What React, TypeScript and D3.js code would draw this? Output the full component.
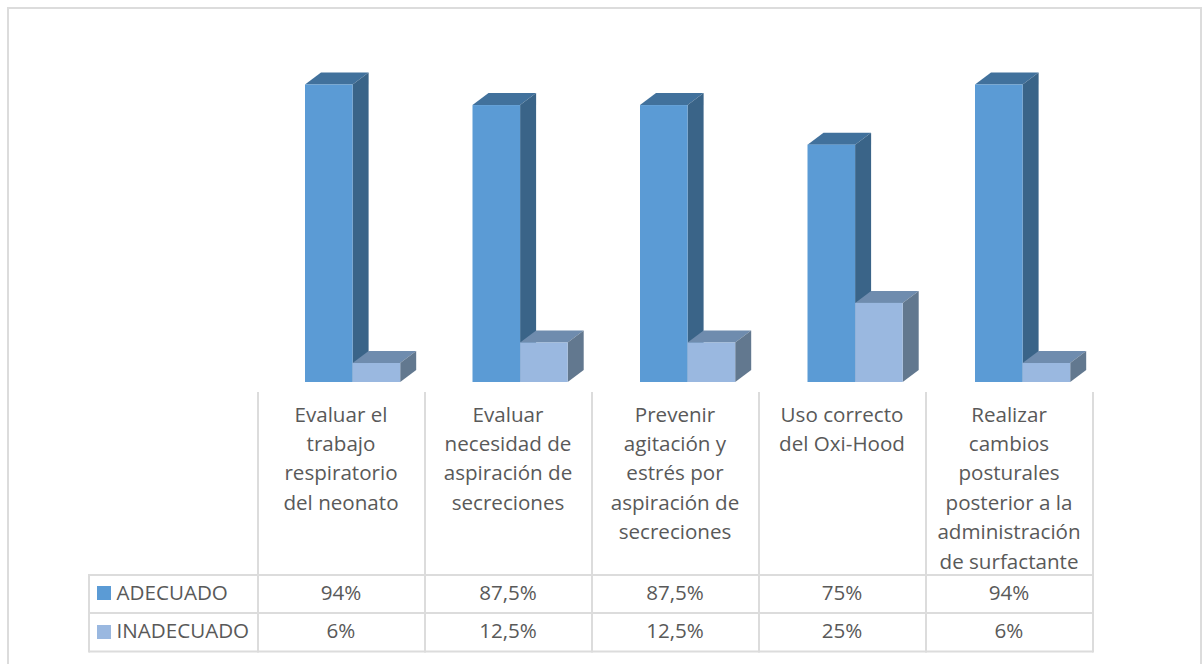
import React from "react";
import * as d3 from "d3";

const categories = [
  ["Evaluar el", "trabajo", "respiratorio", "del neonato"],
  ["Evaluar", "necesidad de", "aspiración de", "secreciones"],
  ["Prevenir", "agitación y", "estrés por", "aspiración de", "secreciones"],
  ["Uso correcto", "del Oxi-Hood"],
  ["Realizar", "cambios", "posturales", "posterior a la", "administración", "de surfactante"],
];
const adecuado = [94, 87.5, 87.5, 75, 94];
const inadecuado = [6, 12.5, 12.5, 25, 6];
const adecuadoLabels = ["94%", "87,5%", "87,5%", "75%", "94%"];
const inadecuadoLabels = ["6%", "12,5%", "12,5%", "25%", "6%"];
const seriesNames = ["ADECUADO", "INADECUADO"];

const W = 1204;
const H = 664;
const FONT = "'Open Sans', 'Noto Sans', sans-serif";
const FONT_SIZE = 20.6;
const TEXT = "#595959";
const GRID = "#dcdcdc";
const DX = 16;
const DY = -12;
const BAR_W = 47.6;

const seriesColors = [
  { front: "#5b9bd5", top: "#41719c", side: "#3a6488" },
  { front: "#9ab8e0", top: "#6f8cae", side: "#62788f" },
];

const bandX = d3.scaleBand<number>().domain(d3.range(5)).range([258, 1093]);
const groupX = d3.scaleLinear().domain([0, 4]).range([305, 975]);
const y = d3.scaleLinear().domain([0, 94]).range([382, 84.5]);

function Bar3D({ x, value, c }: { x: number; value: number; c: (typeof seriesColors)[number] }) {
  const t = y(value);
  const b = y(0);
  const r = x + BAR_W;
  const pts = (p: number[][]) => p.map((q) => q.join(",")).join(" ");
  return (
    <g>
      <polygon points={pts([[x, t], [x + DX, t + DY], [r + DX, t + DY], [r, t]])} fill={c.top} />
      <polygon points={pts([[r, t], [r + DX, t + DY], [r + DX, b + DY], [r, b]])} fill={c.side} />
      <rect x={x} y={t} width={BAR_W} height={b - t} fill={c.front} />
    </g>
  );
}

export default function App() {
  const rows = [575, 613, 651.5];
  const cols = bandX.domain().map((i) => bandX(i) as number);
  const mid = (i: number) => cols[i] + bandX.bandwidth() / 2 - 0.5;
  return (
    <svg
      width={W}
      height={H}
      viewBox={`0 0 ${W} ${H}`}
      style={{ position: "absolute", left: 0, top: 0, display: "block", background: "#fff" }}
    >
      <rect x={8} y={8} width={1193} height={670} fill="#fff" stroke={GRID} strokeWidth={2} />

      {/* bars: the second series is painted last within each group */}
      {cols.map((_, i) => {
        const x0 = groupX(i);
        return (
          <g key={i}>
            <Bar3D x={x0} value={adecuado[i]} c={seriesColors[0]} />
            <Bar3D x={x0 + BAR_W} value={inadecuado[i]} c={seriesColors[1]} />
          </g>
        );
      })}

      {/* data table rules */}
      <g stroke={GRID} strokeWidth={2}>
        {[...cols, 1093].map((x) => (
          <line key={x} x1={x} x2={x} y1={392} y2={rows[2] + 1} />
        ))}
        <line x1={89} x2={89} y1={rows[0] - 1} y2={rows[2] + 1} />
        {rows.map((r) => (
          <line key={r} x1={89} x2={1093} y1={r} y2={r} />
        ))}
      </g>

      <g fontFamily={FONT} fontSize={FONT_SIZE} fill={TEXT} textAnchor="middle">
        {categories.map((lines, i) => (
          <text key={i}>
            {lines.map((l, j) => (
              <tspan key={j} x={mid(i)} y={421.5 + j * 29.4}>
                {l}
              </tspan>
            ))}
          </text>
        ))}
        {adecuadoLabels.map((l, i) => (
          <text key={i} x={mid(i)} y={600}>{l}</text>
        ))}
        {inadecuadoLabels.map((l, i) => (
          <text key={i} x={mid(i)} y={638}>{l}</text>
        ))}
      </g>

      {seriesNames.map((n, i) => (
        <g key={n}>
          <rect x={97} y={586 + i * 39} width={14} height={14} fill={seriesColors[i].front} />
          <text x={116.5} y={600 + i * 38} fontFamily={FONT} fontSize={FONT_SIZE} fill={TEXT}>{n}</text>
        </g>
      ))}
    </svg>
  );
}
